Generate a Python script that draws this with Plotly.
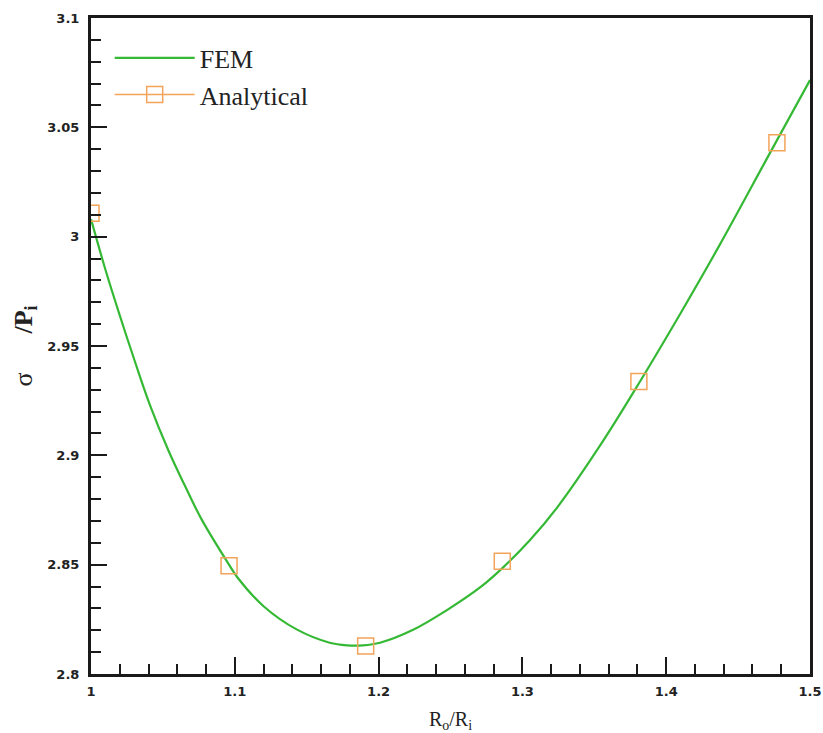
import plotly.graph_objects as go

# FEM curve
fem_x = [1.000, 1.010, 1.020, 1.031, 1.041, 1.054, 1.065, 1.077, 1.096, 1.102,
         1.120, 1.143, 1.166, 1.178, 1.189, 1.201, 1.224, 1.247, 1.271, 1.287,
         1.305, 1.324, 1.356, 1.382, 1.410, 1.437, 1.472, 1.500]
fem_y = [3.008, 2.985, 2.964, 2.942, 2.923, 2.902, 2.8865, 2.8706, 2.8500, 2.8440,
         2.8310, 2.8204, 2.8143, 2.8131, 2.8131, 2.8143, 2.8202, 2.8290, 2.8398, 2.8490,
         2.8610, 2.8760, 2.9065, 2.9340, 2.9650, 2.9960, 3.0381, 3.0716]

# Analytical points
ana_x = [1.000, 1.096, 1.191, 1.286, 1.381, 1.477]
ana_y = [3.0107, 2.8495, 2.8128, 2.8516, 2.9338, 3.0430]

x_ticks = [1.0, 1.1, 1.2, 1.3, 1.4, 1.5]
x_labels = ["1", "1.1", "1.2", "1.3", "1.4", "1.5"]
y_ticks = [2.8, 2.85, 2.9, 2.95, 3.0, 3.05, 3.1]
y_labels = ["2.8", "2.85", "2.9", "2.95", "3", "3.05", "3.1"]

green = "#35b935"
orange = "#f3a35a"

fig = go.Figure()
fig.add_trace(go.Scatter(x=fem_x, y=fem_y, mode="lines", name="FEM",
                         line=dict(color=green, width=2.2, shape="spline", smoothing=1.0)))
fig.add_trace(go.Scatter(x=ana_x, y=ana_y, mode="markers", name="Analytical", showlegend=False,
                         marker=dict(symbol="square-open", size=16, color=orange,
                                     line=dict(width=1.5, color=orange))))
fig.add_trace(go.Scatter(x=[None], y=[None], mode="lines+markers", name="Analytical",
                         line=dict(color=orange, width=1.5),
                         marker=dict(symbol="square-open", size=16, color=orange,
                                     line=dict(width=1.5, color=orange))))

tickfont = dict(family="DejaVu Sans", size=13, color="#222", weight="bold")

fig.update_layout(
    width=823, height=733,
    margin=dict(l=91, r=13, t=18, b=59),
    paper_bgcolor="white", plot_bgcolor="white",
    showlegend=True,
    legend=dict(x=0.026, y=0.975, xanchor="left", yanchor="top",
                bgcolor="rgba(0,0,0,0)", borderwidth=0,
                font=dict(family="Liberation Serif", size=26, color="#222"),
                tracegroupgap=0, itemwidth=80),
    xaxis=dict(range=[1.0, 1.5], tickvals=x_ticks, ticktext=x_labels,
               showgrid=False, zeroline=False, automargin=False,
               showline=True, linecolor="#1a1a1a", linewidth=3, mirror=True,
               ticks="inside", ticklen=17, tickwidth=2, tickcolor="#1a1a1a",
               minor=dict(ticks="inside", ticklen=10, tickwidth=1.5, tickcolor="#1a1a1a", dtick=0.02),
               tickfont=tickfont, ticklabelstandoff=3,
               title=dict(text="R<sub>o</sub>/R<sub>i</sub>", standoff=16,
                          font=dict(family="Liberation Serif", size=20, color="#222"))),
    yaxis=dict(range=[2.8, 3.1], tickvals=y_ticks, ticktext=y_labels,
               showgrid=False, zeroline=False, automargin=False,
               showline=True, linecolor="#1a1a1a", linewidth=3, mirror=True,
               ticks="inside", ticklen=16, tickwidth=2, tickcolor="#1a1a1a",
               minor=dict(ticks="inside", ticklen=10, tickwidth=1.5, tickcolor="#1a1a1a", dtick=0.01),
               tickfont=tickfont, ticklabelstandoff=6,
               title=dict(text="\u00a0\u00a0\u00a0\u03c3\u00a0\u00a0\u00a0\u00a0\u00a0\u00a0<b>/P<sub>i</sub></b>", standoff=8,
                          font=dict(family="Liberation Serif", size=26, color="#222"))),
)

fig.write_html("out.html")
